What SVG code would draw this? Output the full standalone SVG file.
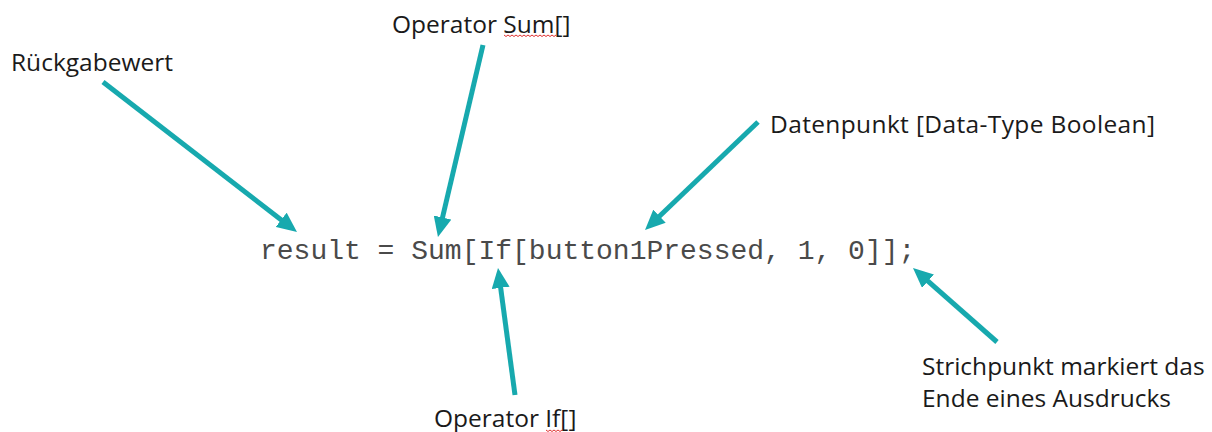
<svg xmlns="http://www.w3.org/2000/svg" width="1212" height="432" viewBox="0 0 1212 432">
  <style>
    .lbl { font-family: "Open Sans", "Noto Sans", sans-serif; font-size: 24.5px; fill: #1a1a1a; }
    .code { font-family: "Liberation Mono", "Courier New", monospace; font-size: 28px; fill: #4a4a4a; }
    .conn { stroke: #17a9ae; stroke-width: 5; fill: none; marker-end: url(#ah); }
    .spell { stroke: #e03030; stroke-width: 1; fill: none; }
  </style>
  <defs>
    <marker id="ah" viewBox="0 0 10 10" refX="4" refY="5" markerWidth="4" markerHeight="3.6" preserveAspectRatio="none" orient="auto">
      <path d="M0,0 L10,5 L0,10 z" fill="#17a9ae"/>
    </marker>
  </defs>
  <rect width="1212" height="432" fill="#ffffff"/>

  <g id="code">
    <text class="code" x="260" y="259">result = Sum[If[button1Pressed, 1, 0]];</text>
  </g>

  <g id="rueckgabewert">
    <text class="lbl" x="11" y="71">Rückgabewert</text>
  </g>

  <g id="operator-sum">
    <text class="lbl" x="392" y="33">Operator Sum[]</text>
    <path class="spell" d="M504,35 l2,1.5 l2,-1.5 l2,1.5 l2,-1.5 l2,1.5 l2,-1.5 l2,1.5 l2,-1.5 l2,1.5 l2,-1.5 l2,1.5 l2,-1.5 l2,1.5 l2,-1.5 l2,1.5 l2,-1.5 l2,1.5 l2,-1.5 l2,1.5 l2,-1.5 l2,1.5 l2,-1.5 l2,1.5 l2,-1.5 l2,1.5 l2,-1.5"/>
  </g>

  <g id="datenpunkt">
    <text class="lbl" x="770" y="133" textLength="385" lengthAdjust="spacing">Datenpunkt [Data-Type Boolean]</text>
  </g>

  <g id="strichpunkt">
    <text class="lbl" x="922" y="375">Strichpunkt markiert das</text>
    <text class="lbl" x="922" y="407">Ende eines Ausdrucks</text>
  </g>

  <g id="operator-if">
    <text class="lbl" x="434" y="427">Operator If[]</text>
    <path class="spell" d="M546,430 l2,1.5 l2,-1.5 l2,1.5 l2,-1.5 l2,1.5 l2,-1.5 l2,1.5 l2,-1.5"/>
  </g>

  <g id="connectors">
    <line class="conn" x1="103" y1="82" x2="287.5" y2="224.7"/>
    <line class="conn" x1="483" y1="45" x2="440.7" y2="225.3"/>
    <line class="conn" x1="758" y1="122" x2="653.7" y2="221.7"/>
    <line class="conn" x1="997" y1="342" x2="922" y2="275.9"/>
    <line class="conn" x1="515" y1="395" x2="499.6" y2="279.9"/>
  </g>
</svg>
